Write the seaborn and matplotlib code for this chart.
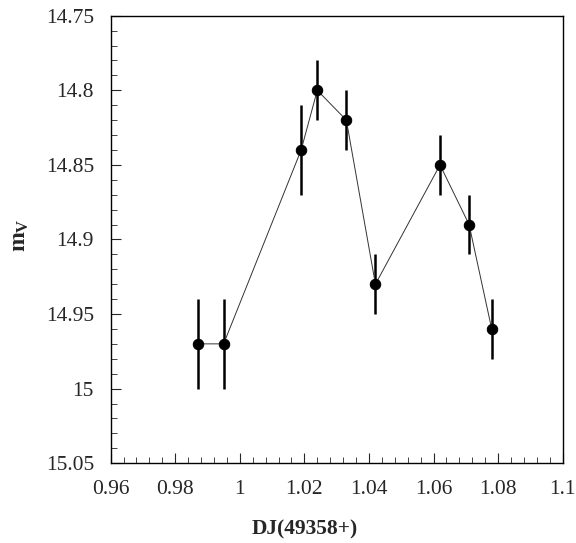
import matplotlib
matplotlib.use("Agg")
import matplotlib.pyplot as plt
from matplotlib.ticker import MultipleLocator
import numpy as np
import pandas as pd
import seaborn as sns

# Observation epochs (days after JD 2449358) and V magnitudes with errors
dj = [0.987, 0.995, 1.019, 1.024, 1.033, 1.042, 1.062, 1.071, 1.078]
mag_v = [14.97, 14.97, 14.84, 14.80, 14.82, 14.93, 14.85, 14.89, 14.96]
mag_err = [0.03, 0.03, 0.03, 0.02, 0.02, 0.02, 0.02, 0.02, 0.02]

x_ticks = [0.96, 0.98, 1.00, 1.02, 1.04, 1.06, 1.08, 1.10]
x_tick_labels = ["0.96", "0.98", "1", "1.02", "1.04", "1.06", "1.08", "1.1"]
y_ticks = [14.75, 14.80, 14.85, 14.90, 14.95, 15.00, 15.05]
y_tick_labels = ["14.75", "14.8", "14.85", "14.9", "14.95", "15", "15.05"]

df = pd.DataFrame({"dj": dj, "mag": mag_v, "err": mag_err})

sns.set_style("ticks")
plt.rcParams["font.family"] = ["Liberation Serif", "DejaVu Serif"]
plt.rcParams["mathtext.fontset"] = "custom"
plt.rcParams["mathtext.rm"] = "Liberation Serif"
plt.rcParams["mathtext.bf"] = "Liberation Serif:bold"

fig = plt.figure(figsize=(5.76, 5.43), dpi=100)
ax = fig.add_axes([0.192, 0.147, 0.785, 0.824])

ax.errorbar(df["dj"], df["mag"], yerr=df["err"], fmt="none",
            ecolor="black", elinewidth=1.8, capsize=0, zorder=2)
sns.lineplot(data=df, x="dj", y="mag", ax=ax, color="#333333",
             linewidth=0.7, marker="o", markersize=7.5,
             markerfacecolor="black", markeredgecolor="black",
             sort=False, zorder=3)

ax.set_xlim(0.96, 1.10)
ax.set_ylim(15.05, 14.75)
ax.set_xticks(x_ticks)
ax.set_xticklabels(x_tick_labels)
ax.set_yticks(y_ticks)
ax.set_yticklabels(y_tick_labels)
ax.xaxis.set_minor_locator(MultipleLocator(0.004))
ax.yaxis.set_minor_locator(MultipleLocator(0.01))

ax.tick_params(axis="both", which="both", direction="in",
               top=False, right=False, labelsize=15.5)
ax.tick_params(axis="x", which="major", pad=12)
ax.tick_params(axis="y", which="major", pad=12)
ax.tick_params(which="major", length=7, width=0.8)
ax.tick_params(which="minor", length=4, width=0.6)
for side in ax.spines.values():
    side.set_linewidth(1.0)
    side.set_color("black")

ax.set_xlabel("DJ(49358+)", fontsize=15.5, fontweight="bold")
ax.xaxis.set_label_coords(0.43, -0.125)
ax.set_ylabel(r"$\mathbf{m_{V}}$", fontsize=17)
ax.yaxis.set_label_coords(-0.175, 0.51)

fig.savefig("out.png", dpi=100)
